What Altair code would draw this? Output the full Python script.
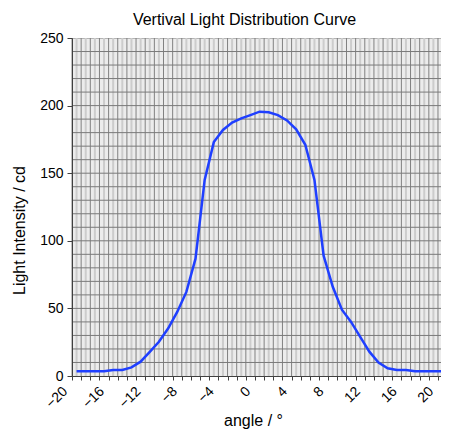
import altair as alt
import pandas as pd

# ---- data ----
angles = [-19.5, -18.5, -17.5, -16.5, -15.5, -14.5, -13.5, -12.5, -11.5, -10.5,
          -9.5, -8.5, -7.5, -6.5, -5.5, -4.5, -3.5, -2.5, -1.5, -0.5,
          0.5, 1.5, 2.5, 3.5, 4.5, 5.5, 6.5, 7.5, 8.5, 9.5,
          10.5, 11.5, 12.5, 13.5, 14.5, 15.5, 16.5, 17.5, 18.5, 19.5,
          20.5, 21.5]
intensity = [3.5, 3.5, 3.5, 3.5, 4.4, 4.4, 6.4, 10.6, 17.9, 25.3,
             35.1, 47.4, 62.2, 86.8, 145.0, 173.0, 182.0, 187.5, 190.5, 193.0,
             195.5, 195.0, 193.0, 189.0, 182.5, 171.0, 145.0, 89.0, 66.0, 49.0,
             40.0, 29.0, 18.0, 10.0, 5.7, 4.4, 4.4, 3.5, 3.5, 3.5,
             3.5, 3.5]

x_ticks = list(range(-20, 21))
x_stripes = [-19.5, -18.5, -17.5, -16.5, -15.5, -14.5, -13.5, -12.5, -11.5, -10.5,
             -9.5, -8.5, -7.5, -6.5, -5.5, -4.5, -3.5, -2.5, -1.5, -0.5,
             0.5, 1.5, 2.5, 3.5, 4.5, 5.5, 6.5, 7.5, 8.5, 9.5,
             10.5, 11.5, 12.5, 13.5, 14.5, 15.5, 16.5, 17.5, 18.5, 19.5]
y_grid = [10, 20, 30, 40, 50, 60, 70, 80, 90, 100, 110, 120, 130, 140, 150,
          160, 170, 180, 190, 200, 210, 220, 230, 240]
y_ticks = [0, 50, 100, 150, 200, 250]

title_text = "Vertival Light Distribution Curve"
x_title = "angle / °"
y_title = "Light Intensity / cd"

FONT = "Liberation Sans"

df = pd.DataFrame({"angle": angles, "intensity": intensity})

xscale = alt.Scale(domain=[-20, 20.33], nice=False, zero=False)
yscale = alt.Scale(domain=[0, 250], nice=False, zero=True)

x_axis = alt.Axis(values=x_ticks,
                  labelExpr="datum.value % 4 == 0 ? datum.label : ''",
                  labelAngle=315, labelAlign="right", labelBaseline="middle",
                  labelFont=FONT, labelFontSize=14, labelColor="black",
                  labelPadding=9, labelOffset=-7, labelOverlap=False, labelFlush=False,
                  tickSize=4, tickColor="#404040", domainColor="#404040",
                  grid=False, zindex=1,
                  title=x_title, titleFont=FONT, titleFontSize=16,
                  titleFontWeight="normal", titleColor="black",
                  titleX=181, titleY=49, titleAlign="center",
                  titleBaseline="alphabetic")
y_axis = alt.Axis(values=y_ticks, grid=False, zindex=1,
                  labelFont=FONT, labelFontSize=14, labelColor="black",
                  labelPadding=4, labelFlush=False,
                  tickSize=5, tickColor="#404040", domainColor="#404040",
                  title=y_title, titleFont=FONT, titleFontSize=16,
                  titleFontWeight="normal", titleColor="black",
                  titleAngle=270, titleX=-53, titleY=192,
                  titleAlign="center", titleBaseline="middle")

stripes = alt.Chart(pd.DataFrame({"s": x_stripes})).mark_rule(
    color="#cccccc", strokeWidth=2
).encode(x=alt.X("s:Q", scale=xscale, axis=x_axis))

vgrid = alt.Chart(pd.DataFrame({"g": x_ticks})).mark_rule(
    color="#808080", strokeWidth=1
).encode(x=alt.X("g:Q", scale=xscale, axis=x_axis))

hgrid = alt.Chart(pd.DataFrame({"h": y_grid})).mark_rule(
    color="#7a7a7a", strokeWidth=1
).encode(y=alt.Y("h:Q", scale=yscale, axis=y_axis))

line = alt.Chart(df).mark_line(color="#1f3fff", strokeWidth=2.5, clip=True).encode(
    x=alt.X("angle:Q", scale=xscale, axis=x_axis),
    y=alt.Y("intensity:Q", scale=yscale, axis=y_axis),
)

chart = alt.layer(stripes, vgrid, hgrid, line).properties(
    width=369, height=338,
    title=alt.TitleParams(text=title_text, font=FONT, fontSize=16, fontWeight="normal",
                          color="black", anchor="middle", frame="group", offset=13,
                          baseline="alphabetic", dx=-12, dy=23),
    padding={"left": 64, "top": 30, "right": 0, "bottom": 54},
    autosize=alt.AutoSizeParams(type="none"),
).configure_view(fill="#ececec", stroke="#b4b4b4")

chart.save("out.html", embed_options={"renderer": "svg", "actions": False})
